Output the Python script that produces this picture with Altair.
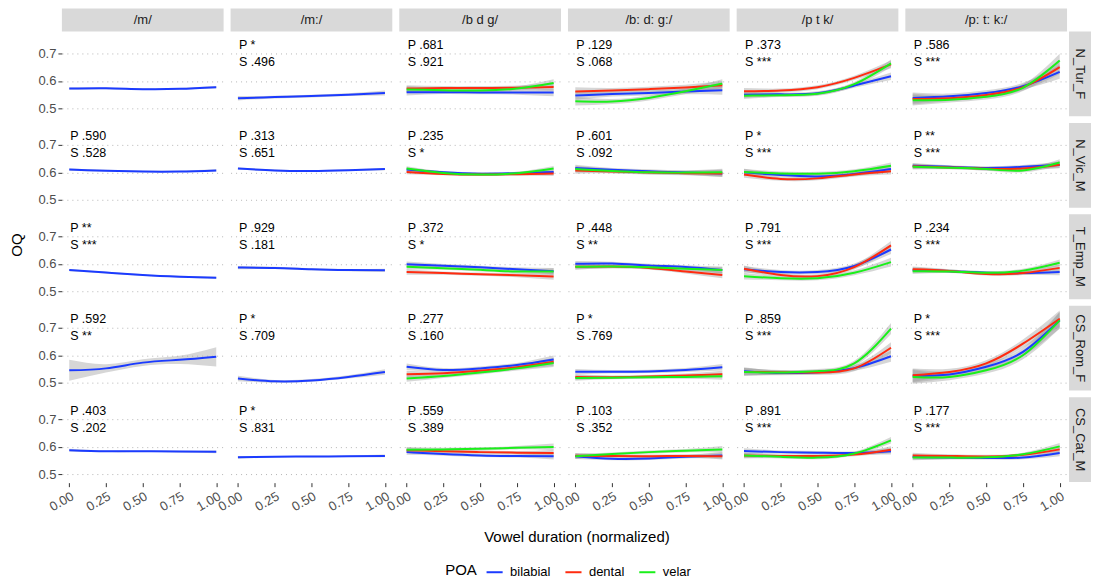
import altair as alt
import pandas as pd

# ---------------- data ----------------
ROWS = ["N_Tur_F", "N_Vic_M", "T_Emp_M", "CS_Rom_F", "CS_Cat_M"]
COLS = ["/m/", "/m:/", "/b d g/", "/b: d: g:/", "/p t k/", "/p: t: k:/"]
POA = ["bilabial", "dental", "velar"]
POA_COLORS = ["#1B3BFF", "#FF2B0F", "#1AF01A"]
X_POS = [0.0, 0.25, 0.5, 0.75, 1.0]

# smoothed OQ values at X_POS (speaker -> consonant -> POA)
N_TUR_F = {
    "/m/": {"bilabial": [0.572, 0.573, 0.570, 0.571, 0.577]},
    "/m:/": {"bilabial": [0.537, 0.541, 0.545, 0.550, 0.556]},
    "/b d g/": {"bilabial": [0.559, 0.559, 0.558, 0.558, 0.558],
                "dental": [0.572, 0.574, 0.574, 0.575, 0.578],
                "velar": [0.569, 0.566, 0.565, 0.572, 0.592]},
    "/b: d: g:/": {"bilabial": [0.547, 0.552, 0.556, 0.561, 0.566],
                   "dental": [0.561, 0.565, 0.570, 0.576, 0.584],
                   "velar": [0.526, 0.525, 0.538, 0.562, 0.590]},
    "/p t k/": {"bilabial": [0.550, 0.551, 0.555, 0.583, 0.617],
                "dental": [0.562, 0.565, 0.577, 0.611, 0.660],
                "velar": [0.546, 0.548, 0.553, 0.588, 0.664]},
    "/p: t: k:/": {"bilabial": [0.538, 0.544, 0.556, 0.581, 0.633],
                   "dental": [0.534, 0.537, 0.549, 0.577, 0.650],
                   "velar": [0.530, 0.531, 0.542, 0.575, 0.674]},
}
N_VIC_M = {
    "/m/": {"bilabial": [0.610, 0.606, 0.603, 0.603, 0.607]},
    "/m:/": {"bilabial": [0.614, 0.607, 0.605, 0.608, 0.612]},
    "/b d g/": {"bilabial": [0.610, 0.600, 0.595, 0.597, 0.601],
                "dental": [0.601, 0.594, 0.592, 0.593, 0.596],
                "velar": [0.614, 0.598, 0.592, 0.597, 0.614]},
    "/b: d: g:/": {"bilabial": [0.616, 0.609, 0.604, 0.599, 0.596],
                   "dental": [0.607, 0.603, 0.599, 0.597, 0.596],
                   "velar": [0.612, 0.605, 0.600, 0.599, 0.600]},
    "/p t k/": {"bilabial": [0.600, 0.590, 0.585, 0.594, 0.612],
                "dental": [0.592, 0.576, 0.578, 0.592, 0.604],
                "velar": [0.601, 0.596, 0.595, 0.604, 0.624]},
    "/p: t: k:/": {"bilabial": [0.624, 0.620, 0.616, 0.620, 0.627],
                   "dental": [0.622, 0.618, 0.613, 0.614, 0.628],
                   "velar": [0.620, 0.617, 0.612, 0.607, 0.636]},
}
T_EMP_M = {
    "/m/": {"bilabial": [0.577, 0.568, 0.559, 0.553, 0.549]},
    "/m:/": {"bilabial": [0.586, 0.585, 0.580, 0.577, 0.576]},
    "/b d g/": {"bilabial": [0.598, 0.593, 0.587, 0.580, 0.573],
                "dental": [0.570, 0.566, 0.562, 0.558, 0.554],
                "velar": [0.589, 0.584, 0.578, 0.572, 0.572]},
    "/b: d: g:/": {"bilabial": [0.600, 0.601, 0.594, 0.588, 0.577],
                   "dental": [0.589, 0.590, 0.585, 0.572, 0.559],
                   "velar": [0.589, 0.590, 0.587, 0.582, 0.577]},
    "/p t k/": {"bilabial": [0.580, 0.570, 0.570, 0.592, 0.652],
                "dental": [0.582, 0.559, 0.555, 0.588, 0.667],
                "velar": [0.555, 0.547, 0.547, 0.567, 0.606]},
    "/p: t: k:/": {"bilabial": [0.577, 0.573, 0.567, 0.566, 0.570],
                   "dental": [0.580, 0.574, 0.563, 0.566, 0.585],
                   "velar": [0.573, 0.572, 0.567, 0.575, 0.604]},
}
CS_ROM_F = {
    "/m/": {"bilabial": [0.545, 0.552, 0.573, 0.583, 0.594]},
    "/m:/": {"bilabial": [0.515, 0.505, 0.508, 0.521, 0.539]},
    "/b d g/": {"bilabial": [0.558, 0.546, 0.552, 0.564, 0.584],
                "dental": [0.531, 0.534, 0.543, 0.556, 0.576],
                "velar": [0.515, 0.524, 0.537, 0.552, 0.572]},
    "/b: d: g:/": {"bilabial": [0.540, 0.540, 0.541, 0.546, 0.556],
                   "dental": [0.521, 0.520, 0.522, 0.526, 0.531],
                   "velar": [0.517, 0.518, 0.520, 0.521, 0.523]},
    "/p t k/": {"bilabial": [0.542, 0.535, 0.538, 0.553, 0.596],
                "dental": [0.539, 0.538, 0.537, 0.552, 0.627],
                "velar": [0.539, 0.537, 0.542, 0.570, 0.697]},
    "/p: t: k:/": {"bilabial": [0.525, 0.530, 0.558, 0.612, 0.727],
                   "dental": [0.527, 0.539, 0.570, 0.642, 0.733],
                   "velar": [0.521, 0.521, 0.545, 0.600, 0.727]},
}
CS_CAT_M = {
    "/m/": {"bilabial": [0.587, 0.583, 0.583, 0.582, 0.581]},
    "/m:/": {"bilabial": [0.561, 0.563, 0.564, 0.565, 0.566]},
    "/b d g/": {"bilabial": [0.580, 0.573, 0.568, 0.566, 0.565],
                "dental": [0.587, 0.583, 0.580, 0.578, 0.577],
                "velar": [0.589, 0.590, 0.592, 0.596, 0.599]},
    "/b: d: g:/": {"bilabial": [0.565, 0.556, 0.557, 0.563, 0.568],
                   "dental": [0.567, 0.566, 0.565, 0.566, 0.565],
                   "velar": [0.565, 0.573, 0.580, 0.585, 0.590]},
    "/p t k/": {"bilabial": [0.584, 0.580, 0.578, 0.577, 0.583],
                "dental": [0.568, 0.566, 0.566, 0.571, 0.589],
                "velar": [0.568, 0.563, 0.560, 0.575, 0.623]},
    "/p: t: k:/": {"bilabial": [0.562, 0.560, 0.559, 0.560, 0.577],
                   "dental": [0.568, 0.566, 0.564, 0.570, 0.590],
                   "velar": [0.560, 0.560, 0.561, 0.572, 0.601]},
}
CURVES = {"N_Tur_F": N_TUR_F, "N_Vic_M": N_VIC_M, "T_Emp_M": T_EMP_M,
          "CS_Rom_F": CS_ROM_F, "CS_Cat_M": CS_CAT_M}

# confidence band half-widths at X_POS, one list per panel (speaker -> 6 consonants)
BAND_N_TUR_F = [[0.004, 0.003, 0.003, 0.003, 0.004], [0.008, 0.005, 0.005, 0.005, 0.009],
                [0.012, 0.007, 0.007, 0.008, 0.014], [0.016, 0.009, 0.009, 0.010, 0.016],
                [0.012, 0.007, 0.007, 0.008, 0.014], [0.020, 0.010, 0.010, 0.012, 0.025]]
BAND_N_VIC_M = [[0.004, 0.003, 0.003, 0.003, 0.004], [0.004, 0.003, 0.003, 0.003, 0.004],
                [0.008, 0.005, 0.005, 0.005, 0.009], [0.012, 0.007, 0.007, 0.008, 0.013],
                [0.012, 0.007, 0.007, 0.007, 0.012], [0.010, 0.006, 0.006, 0.007, 0.012]]
BAND_T_EMP_M = [[0.004, 0.003, 0.003, 0.003, 0.004], [0.006, 0.004, 0.004, 0.004, 0.006],
                [0.010, 0.006, 0.006, 0.007, 0.012], [0.010, 0.006, 0.006, 0.007, 0.012],
                [0.012, 0.007, 0.007, 0.009, 0.016], [0.010, 0.006, 0.006, 0.007, 0.012]]
BAND_CS_ROM_F = [[0.038, 0.015, 0.012, 0.015, 0.035], [0.010, 0.005, 0.005, 0.006, 0.010],
                 [0.012, 0.007, 0.007, 0.008, 0.015], [0.010, 0.006, 0.006, 0.007, 0.012],
                 [0.014, 0.008, 0.008, 0.010, 0.020], [0.025, 0.012, 0.012, 0.015, 0.030]]
BAND_CS_CAT_M = [[0.005, 0.003, 0.003, 0.003, 0.005], [0.005, 0.003, 0.003, 0.003, 0.005],
                 [0.010, 0.006, 0.006, 0.006, 0.012], [0.010, 0.006, 0.006, 0.006, 0.012],
                 [0.010, 0.006, 0.006, 0.006, 0.012], [0.010, 0.006, 0.006, 0.006, 0.012]]
BANDS = {"N_Tur_F": BAND_N_TUR_F, "N_Vic_M": BAND_N_VIC_M, "T_Emp_M": BAND_T_EMP_M,
         "CS_Rom_F": BAND_CS_ROM_F, "CS_Cat_M": BAND_CS_CAT_M}

# significance annotations per speaker (one entry per consonant column)
P_LABELS = {
    "N_Tur_F": ["", "*", ".681", ".129", ".373", ".586"],
    "N_Vic_M": [".590", ".313", ".235", ".601", "*", "**"],
    "T_Emp_M": ["**", ".929", ".372", ".448", ".791", ".234"],
    "CS_Rom_F": [".592", "*", ".277", "*", ".859", "*"],
    "CS_Cat_M": [".403", "*", ".559", ".103", ".891", ".177"],
}
S_LABELS = {
    "N_Tur_F": ["", ".496", ".921", ".068", "***", "***"],
    "N_Vic_M": [".528", ".651", "*", ".092", "***", "***"],
    "T_Emp_M": ["***", ".181", "*", "**", "***", "***"],
    "CS_Rom_F": ["**", ".709", ".160", ".769", "***", "***"],
    "CS_Cat_M": [".202", ".831", ".389", ".352", "***", "***"],
}

# ---------------- build the table ----------------
recs = []
for speaker in ROWS:
    for ci, cons in enumerate(COLS):
        half = BANDS[speaker][ci]
        for poa, ys in CURVES[speaker][cons].items():
            for x, y, h in zip(X_POS, ys, half):
                recs.append(dict(kind="curve", row=speaker, col=cons, POA=poa,
                                 x=x, y=y, lo=y - h, hi=y + h))
        p, s = P_LABELS[speaker][ci], S_LABELS[speaker][ci]
        if p:
            recs.append(dict(kind="ann", row=speaker, col=cons,
                             ptxt="P " + p, stxt="S " + s))
    recs.append(dict(kind="rowstrip", row=speaker, col=COLS[-1]))
for cons in COLS:
    recs.append(dict(kind="colstrip", row=ROWS[0], col=cons))
df = pd.DataFrame(recs)

# ---------------- chart ----------------
W, H = 162, 85
FONT = "Liberation Sans"
STRIP = "#D9D9D9"
INTERP = "natural"

xscale = alt.Scale(domain=[-0.05, 1.05], nice=False, zero=False)
yscale = alt.Scale(domain=[0.471, 0.78], nice=False, zero=False)
xaxis = alt.Axis(values=X_POS, format=".2f", labelAngle=-30, labelAlign="right",
                 labelBaseline="top", title=None, grid=False, labelPadding=3)
yaxis = alt.Axis(values=[0.5, 0.6, 0.7], format=".1f", title=None, grid=True,
                 gridDash=[1, 4], gridColor="#B5B5B5", gridWidth=1)

X = alt.X("x:Q", scale=xscale, axis=xaxis)

band = alt.Chart().mark_area(interpolate=INTERP, color="#999999", opacity=0.4).encode(
    x=X,
    y=alt.Y("lo:Q", scale=yscale, axis=yaxis),
    y2="hi:Q",
    detail="POA:N",
).transform_filter(alt.datum.kind == "curve")

line = alt.Chart().mark_line(interpolate=INTERP, strokeWidth=2).encode(
    x=X,
    y=alt.Y("y:Q", scale=yscale, axis=yaxis),
    color=alt.Color("POA:N", scale=alt.Scale(domain=POA, range=POA_COLORS),
                    legend=alt.Legend(orient="none", legendX=384, legendY=532,
                                      direction="horizontal", titleOrient="left",
                                      title="POA", titleFontSize=15, titleFont=FONT,
                                      titleFontWeight="normal", titleColor="#000000",
                                      titlePadding=8, labelFont=FONT, labelFontSize=13,
                                      labelColor="#000000", symbolType="stroke",
                                      symbolStrokeWidth=2, symbolSize=260,
                                      columnPadding=10, labelOffset=6)),
).transform_filter(alt.datum.kind == "curve")

ann = alt.Chart().transform_filter(alt.datum.kind == "ann")
ptext = ann.mark_text(align="left", baseline="middle", dy=-8.5, dx=1, fontSize=12.5,
                      font=FONT, color="#000000").encode(
    x=alt.datum(0.0), y=alt.datum(0.7), text="ptxt:N")
stext = ann.mark_text(align="left", baseline="middle", dy=8.5, dx=1, fontSize=12.5,
                      font=FONT, color="#000000").encode(
    x=alt.datum(0.0), y=alt.datum(0.7), text="stxt:N")

colstrip = alt.Chart().transform_filter(alt.datum.kind == "colstrip")
cs_rect = colstrip.mark_rect(color=STRIP).encode(
    x=alt.value(0), x2=alt.value(W), y=alt.value(-23), y2=alt.value(0))
cs_text = colstrip.mark_text(fontSize=13, font=FONT, color="#1A1A1A", baseline="middle").encode(
    x=alt.value(W / 2), y=alt.value(-11.5), text="col:N")

rowstrip = alt.Chart().transform_filter(alt.datum.kind == "rowstrip")
rs_rect = rowstrip.mark_rect(color=STRIP).encode(
    x=alt.value(W + 2), x2=alt.value(W + 24), y=alt.value(0), y2=alt.value(H))
rs_text = rowstrip.mark_text(fontSize=13, font=FONT, color="#1A1A1A", angle=90,
                             baseline="middle").encode(
    x=alt.value(W + 13), y=alt.value(H / 2), text="row:N")

panel = alt.layer(band, line, ptext, stext, cs_rect, cs_text, rs_rect, rs_text,
                  data=df).properties(width=W, height=H)

chart = panel.facet(
    row=alt.Row("row:N", sort=ROWS,
                header=alt.Header(labels=False, title="OQ", titleOrient="left",
                                  titleFontSize=15, titleFont=FONT, titleFontWeight="normal",
                                  titleColor="#000000", titlePadding=2)),
    column=alt.Column("col:N", sort=COLS,
                      header=alt.Header(labels=False, title="Vowel duration (normalized)",
                                        titleOrient="bottom", titleFontSize=15, titleFont=FONT,
                                        titleFontWeight="normal", titleColor="#000000",
                                        titlePadding=6)),
    spacing={"row": 6.6, "column": 7},
    bounds="flush",
).properties(padding={"left": 2, "top": 0, "right": 0, "bottom": 0}).configure_view(
    stroke=None
).configure_axis(
    labelFont=FONT, labelFontSize=13, labelColor="#4D4D4D", tickColor="#333333",
    tickSize=4, domain=False, labelPadding=2,
).configure_header(titleFont=FONT)

chart.save("out.html", embed_options={"renderer": "svg", "actions": False})
